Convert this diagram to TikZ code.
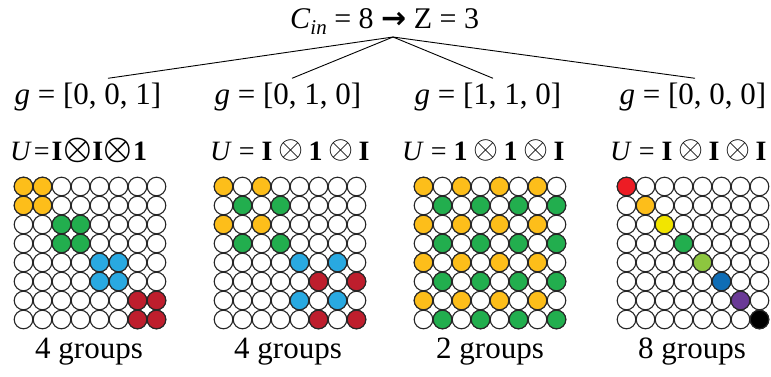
\documentclass[tikz,border=0pt]{standalone}
\usepackage{fontspec}
\setmainfont{Liberation Serif}
\newfontfamily\symbfont{DejaVu Sans}
\usepackage{tikz}
\usetikzlibrary{calc}
\definecolor{gold}{HTML}{FDBE1A}
\definecolor{leaf}{HTML}{22AE4E}
\definecolor{sky}{HTML}{29A9E1}
\definecolor{crim}{HTML}{BE1E2D}
\definecolor{rred}{HTML}{ED1C24}
\definecolor{ryel}{HTML}{F2E500}
\definecolor{rlime}{HTML}{8DC63F}
\definecolor{rblue}{HTML}{0F6DB5}
\definecolor{rpurp}{HTML}{6A3A96}
\newcommand{\ot}{\kern5.5pt\raisebox{1.5pt}{\scalebox{1.55}{\fontsize{20}{24}\selectfont$\otimes$}}\kern5.5pt}
\newcommand{\otb}{\kern0.5pt\raisebox{1.5pt}{\scalebox{1.55}{\fontsize{20}{24}\selectfont\boldmath$\otimes$}}\kern0.5pt}
\tikzset{
    title/.style={font=\fontsize{30}{34}\selectfont, inner sep=0pt, anchor=base west},
    glabel/.style={font=\fontsize{31}{34}\selectfont, inner sep=4pt, anchor=base},
    ulabel/.style={font=\fontsize{28}{32}\selectfont, inner sep=0pt, anchor=base west},
    count/.style={font=\fontsize{31}{34}\selectfont, inner sep=0pt, anchor=base},
    branch/.style={line width=0.9pt},
    qubit/.style={draw=black!85, line width=1.1pt, fill=white}
}

\begin{document}
\begin{tikzpicture}[x=1pt, y=-1pt]
    \useasboundingbox (0,0) rectangle (771,376);
    \node[title] (top) at (290,28) {\textit{C}\raisebox{-6pt}{\fontsize{21}{24}\selectfont\textit{in}} = 8 {\symbfont\bfseries\fontsize{30}{34}\selectfont →} Z = 3};
    \coordinate (apex) at (393,37);

    \node[glabel] (g1) at (88,104) {\textit{g} = [0, 0, 1]};
    \node[glabel] (g2) at (288,104) {\textit{g} = [0, 1, 0]};
    \node[glabel] (g3) at (488,104) {\textit{g} = [1, 1, 0]};
    \node[glabel] (g4) at (693,104) {\textit{g} = [0, 0, 0]};

    \draw[branch] (apex) -- ([xshift=20pt]g1.north);
    \draw[branch] (apex) -- ([xshift=4pt]g2.north);
    \draw[branch] (apex) -- ([xshift=5pt]g3.north);
    \draw[branch] (apex) -- ([xshift=2pt]g4.north);

    \node[ulabel] (u1) at (10,160) {\textit{U}\kern2pt=\kern2pt\textbf{I}\otb\textbf{I}\otb\textbf{1}};
    \node[ulabel] (u2) at (210,160) {\textit{U} = \textbf{I}\ot\textbf{1}\ot\textbf{I}};
    \node[ulabel] (u3) at (402,160) {\textit{U} = \textbf{1}\ot\textbf{1}\ot\textbf{I}};
    \node[ulabel] (u4) at (610,160) {\textit{U} = \textbf{I}\ot\textbf{I}\ot\textbf{I}};

    % g = [0,0,1]
    \begin{scope}[shift={(14,177)}]
        \foreach \r in {0,...,7} \foreach \c in {0,...,7}
            \draw[qubit] ({9.5+19*\c},{9.5+19*\r}) circle (9.3);
        \foreach \b/\col in {0/gold,1/leaf,2/sky,3/crim}
            \foreach \i in {0,1} \foreach \j in {0,1}
                \draw[qubit, fill=\col] ({9.5+19*(2*\b+\i)},{9.5+19*(2*\b+\j)}) circle (9.3);
    \end{scope}

    % g = [0,1,0]
    \begin{scope}[shift={(214,177)}]
        \foreach \r in {0,...,7} \foreach \c in {0,...,7}
            \draw[qubit] ({9.5+19*\c},{9.5+19*\r}) circle (9.3);
        \foreach \r in {0,2} \foreach \c in {0,2} {
            \draw[qubit, fill=gold] ({9.5+19*\c},{9.5+19*\r}) circle (9.3);
            \draw[qubit, fill=leaf] ({9.5+19*(\c+1)},{9.5+19*(\r+1)}) circle (9.3);
            \draw[qubit, fill=sky] ({9.5+19*(\c+4)},{9.5+19*(\r+4)}) circle (9.3);
            \draw[qubit, fill=crim] ({9.5+19*(\c+5)},{9.5+19*(\r+5)}) circle (9.3);
        }
    \end{scope}

    % g = [1,1,0]
    \begin{scope}[shift={(414,177)}]
        \foreach \r in {0,...,7} \foreach \c in {0,...,7}
            \draw[qubit] ({9.5+19*\c},{9.5+19*\r}) circle (9.3);
        \foreach \r in {0,2,4,6} \foreach \c in {0,2,4,6} {
            \draw[qubit, fill=gold] ({9.5+19*\c},{9.5+19*\r}) circle (9.3);
            \draw[qubit, fill=leaf] ({9.5+19*(\c+1)},{9.5+19*(\r+1)}) circle (9.3);
        }
    \end{scope}

    % g = [0,0,0]
    \begin{scope}[shift={(617,177)}]
        \foreach \r in {0,...,7} \foreach \c in {0,...,7}
            \draw[qubit] ({9.5+19*\c},{9.5+19*\r}) circle (9.3);
        \foreach \k/\col in {0/rred,1/gold,2/ryel,3/leaf,4/rlime,5/rblue,6/rpurp,7/black}
            \draw[qubit, fill=\col] ({9.5+19*\k},{9.5+19*\k}) circle (9.3);
    \end{scope}

    \node[count] (n1) at (89,358) {4 groups};
    \node[count] (n2) at (288,358) {4 groups};
    \node[count] (n3) at (490,358) {2 groups};
    \node[count] (n4) at (692,358) {8 groups};
\end{tikzpicture}
\end{document}
